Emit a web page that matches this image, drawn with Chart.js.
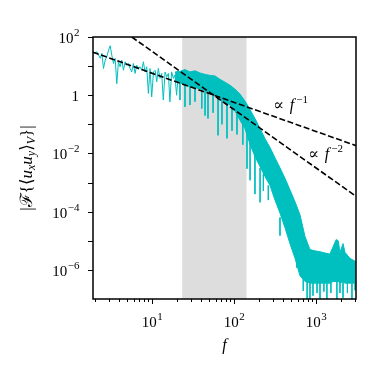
<!DOCTYPE html>
<html>
<head>
<meta charset="utf-8">
<script src="https://cdn.jsdelivr.net/npm/chart.js@4/dist/chart.umd.min.js"></script>
<style>
  html, body { margin: 0; padding: 0; background: #fff; }
</style>
</head>
<body>
<canvas id="myChart" width="374" height="374"></canvas>
<script>
// low-frequency part of the spectrum (thin noisy line)
const lowF = [1.93, 2.12, 2.22, 2.33, 2.44, 2.55, 2.68, 2.80, 2.94, 3.08, 3.22, 3.38, 3.54, 3.71, 3.88, 4.07, 4.26, 4.47,
  4.68, 4.91, 5.14, 5.39, 5.64, 5.91, 6.20, 6.49, 6.80, 7.13, 7.47, 7.83, 8.20, 8.60, 9.01, 9.44, 9.89, 10.4, 10.9,
  11.4, 11.9, 12.5, 13.1, 13.7, 14.4, 15.1, 15.8, 16.5, 17.3, 18.2, 19.0, 19.9, 20.9, 21.9, 22.9];
const lowV = [27.5, 30.9, 24, 18.6, 27.5, 8.3, 16.2, 20.9, 35.5, 50, 24, 12.3, 18.6, 2.5, 14.1, 9.5, 16.2, 7.2,
  14.1, 10.7, 12.3, 8.3, 6.3, 12.3, 5.6, 10.7, 8.3, 9.5, 7.2, 14.1, 6.3, 9.5, 1.15, 8.3, 0.87, 6.3, 7.2,
  2.9, 8.3, 3.8, 5.6, 0.68, 6.3, 4.3, 5.6, 0.59, 6.3, 3.8, 4.9, 1.0, 5.6, 2.9, 4.9];

// dense band at higher frequencies: upper and lower edge
const bandF = [19.1, 21.9, 25.2, 29.0, 33.4, 38.5, 44.3, 50.9, 58.6, 67.5, 77.6, 89.3, 103, 118, 136, 157, 180, 208,
  239, 275, 316, 364, 419, 482, 555, 638, 735, 845, 973, 1120, 1288, 1483, 1620, 1765, 1870, 1963, 2140, 2259, 2600, 3076];
const bandHi = [6.3, 6.6, 7.6, 6.3, 6.9, 5.8, 5.2, 4.8, 4.6, 3.5, 2.8, 2.2, 1.6, 1.1, 0.63, 0.32, 0.16, 0.071,
  0.032, 0.016, 0.0071, 0.0032, 0.0014, 5.6e-4, 2.2e-4, 7.9e-5, 1.4e-5, 5e-6, 4.5e-6, 4.2e-6, 3.8e-6, 3.5e-6, 6.3e-6, 1.1e-5,
  1e-5, 4e-6, 8e-6, 4e-6, 2.5e-6, 1.9e-6];
const bandLo = [3.5, 2.6, 2.3, 1.9, 1.8, 1.66, 1.45, 1.2, 1.0, 0.79, 0.6, 0.46, 0.28, 0.14, 0.071, 0.02, 0.0079, 0.0035,
  0.0016, 7.9e-4, 2.5e-4, 8.9e-5, 2.8e-5, 7.9e-6, 2.5e-6, 6.3e-7, 4e-7, 3.5e-7, 3.5e-7, 3.5e-7, 3.5e-7, 3.5e-7, 4e-7, 4e-7,
  4e-7, 3.5e-7, 4e-7, 3.5e-7, 3.5e-7, 3.5e-7];

// downward spikes out of the band
const spikeF = [21.9, 25.2, 29.0, 33.4, 40.4, 44.3, 48.1, 55.5, 63.8, 71.2, 82.0, 94.4, 108.6, 128, 144, 157, 180, 208,
  228, 262, 364, 583, 700, 780, 845, 920, 1030, 1120, 1250, 1360, 1520, 1800, 1963, 2140, 2420, 2750, 3000];
const spikeTop = [2.8, 2.5, 2.2, 2.2, 1.8, 1.7, 1.6, 1.3, 1.1, 0.9, 0.6, 0.45, 0.3, 0.1, 0.05, 0.03, 0.01, 3.2e-3,
  2e-3, 8e-4, 6.3e-5, 1.6e-6, 5e-7, 4e-7, 4e-7, 4e-7, 4e-7, 4e-7, 4e-7, 4e-7, 4e-7, 4e-7, 4e-7, 4e-7, 4e-7, 4e-7, 4e-7];
const spikeLo = [0.68, 0.4, 0.46, 0.6, 0.35, 0.2, 0.16, 0.25, 0.042, 0.1, 0.033, 0.06, 0.045, 0.02, 0.003, 0.0012, 4e-4, 2.1e-4,
  5.2e-4, 2.5e-4, 1.5e-5, 1.2e-6, 1.9e-7, 9e-8, 9e-8, 1.3e-7, 1.6e-7, 9e-8, 1.8e-7, 9e-8, 1.6e-7, 9e-8, 1.6e-7, 1.1e-7, 1.6e-7, 9e-8, 2e-7];

// power-law guide lines (end points)
const slope1F = [1.9, 3080];
const slope1V = [30, 0.0185];
const slope2F = [5.65, 3080];
const slope2V = [100, 3.36e-4];

// shaded frequency window
const shadeF = [23.3, 142];

// axis ticks
const xMajor = [10, 100, 1000];
const xMinor = [2, 3, 4, 5, 6, 7, 8, 9, 20, 30, 40, 50, 60, 70, 80, 90, 200, 300, 400, 500, 600, 700, 800, 900, 2000, 3000];
const xLabelExp = ['1', '2', '3'];
const yMajor = [1e-6, 1e-5, 1e-4, 1e-3, 1e-2, 1e-1, 1, 10, 100];
const yLabelVals = [1e-6, 1e-4, 1e-2, 1, 100];
const yLabelExp = ['\u22126', '\u22124', '\u22122', '', '2'];

const cyan = '#00bfbf';
const serif = '"Liberation Serif", "DejaVu Serif", serif';

const pts = (fs, vs) => fs.map((f, i) => ({ x: f, y: vs[i] }));

let spikePts = [];
spikeF.forEach((f, i) => {
   spikePts.push({ x: f, y: spikeTop[i] }, { x: f, y: spikeLo[i] }, { x: f, y: null });
});

function powLabel(ctx, x, y, base, exp, align) {
   ctx.font = '15px ' + serif;
   const wb = ctx.measureText(base).width;
   ctx.font = '11px ' + serif;
   const we = exp ? ctx.measureText(exp).width : 0;
   const x0 = align === 'right' ? x - wb - we : x - (wb + we) / 2;
   ctx.font = '15px ' + serif;
   ctx.fillText(base, x0, y);
   if (exp) {
      ctx.font = '11px ' + serif;
      ctx.fillText(exp, x0 + wb + 0.5, y - 7);
   }
}

function richText(ctx, x, y, parts) {
   // parts: [text, size, dy, italic]
   let w = 0;
   parts.forEach(p => {
      ctx.font = (p[3] ? 'italic ' : '') + p[1] + 'px ' + serif;
      w += ctx.measureText(p[0]).width;
   });
   let cx = x - w / 2;
   parts.forEach(p => {
      ctx.font = (p[3] ? 'italic ' : '') + p[1] + 'px ' + serif;
      ctx.fillText(p[0], cx, y + p[2]);
      cx += ctx.measureText(p[0]).width;
   });
}

const decor = {
   id: 'decor',
   beforeDatasetsDraw(chart) {
      const { ctx, chartArea: a, scales: { x } } = chart;
      const x0 = x.getPixelForValue(shadeF[0]);
      const x1 = x.getPixelForValue(shadeF[1]);
      ctx.save();
      ctx.fillStyle = '#dddddd';
      ctx.fillRect(x0, a.top, x1 - x0, a.bottom - a.top);
      ctx.restore();
   },
   afterDraw(chart) {
      const { ctx, chartArea: a, scales: { x, y } } = chart;
      ctx.save();
      ctx.strokeStyle = '#000';
      ctx.fillStyle = '#000';

      // ticks
      ctx.lineWidth = 1;
      ctx.beginPath();
      yMajor.forEach(v => {
         const py = Math.round(y.getPixelForValue(v)) + 0.5;
         ctx.moveTo(a.left - 5, py); ctx.lineTo(a.left, py);
      });
      xMajor.forEach(v => {
         const px = Math.round(x.getPixelForValue(v)) + 0.5;
         ctx.moveTo(px, a.bottom); ctx.lineTo(px, a.bottom + 5);
      });
      xMinor.forEach(v => {
         const px = Math.round(x.getPixelForValue(v)) + 0.5;
         ctx.moveTo(px, a.bottom); ctx.lineTo(px, a.bottom + 3);
      });
      ctx.stroke();

      // frame
      ctx.lineWidth = 1.5;
      ctx.strokeRect(a.left, a.top, a.right - a.left, a.bottom - a.top);

      // tick labels
      ctx.textBaseline = 'alphabetic';
      ctx.textAlign = 'left';
      yLabelVals.forEach((v, i) => {
         const py = y.getPixelForValue(v);
         powLabel(ctx, a.left - 14, py + 6, yLabelExp[i] === '' ? '1' : '10', yLabelExp[i], 'right');
      });
      xMajor.forEach((v, i) => {
         const px = x.getPixelForValue(v);
         powLabel(ctx, px, a.bottom + 28, '10', xLabelExp[i], 'center');
      });

      // axis titles
      richText(ctx, (a.left + a.right) / 2, 350, [['f', 16, 0, true]]);
      ctx.translate(32, (a.top + a.bottom) / 2);
      ctx.rotate(-Math.PI / 2);
      richText(ctx, 0, 0, [
         ['|\u2131{\u27e8', 17, 0, false],
         ['u', 17, 0, true], ['x', 12, 3, true],
         ['u', 17, 0, true], ['y', 12, 3, true],
         ['\u27e9', 17, 0, false], ['V', 12, 3, true],
         ['}|', 17, 0, false]
      ]);
      ctx.restore();

      // slope annotations
      ctx.save();
      ctx.fillStyle = '#000';
      const ann = [[299, 0.30, '\u22121'], [798, 0.0062, '\u22122']];
      ann.forEach(an => {
         const px = x.getPixelForValue(an[0]);
         const py = y.getPixelForValue(an[1]);
         ctx.font = '16px ' + serif;
         ctx.fillText('\u221d', px, py);
         const w1 = ctx.measureText('\u221d ').width;
         ctx.font = 'italic 16px ' + serif;
         ctx.fillText('f', px + w1 + 2, py);
         const w2 = ctx.measureText('f').width;
         ctx.font = '11px ' + serif;
         ctx.fillText(an[2], px + w1 + w2 + 4, py - 7);
      });
      ctx.restore();
   }
};

const ctx = document.getElementById('myChart').getContext('2d');

const data = {
   datasets: [
      {
         data: pts(slope1F, slope1V),
         borderColor: '#000', borderWidth: 1.6, borderDash: [6, 2.6],
         pointRadius: 0, fill: false, clip: 0
      },
      {
         data: pts(slope2F, slope2V),
         borderColor: '#000', borderWidth: 1.6, borderDash: [6, 2.6],
         pointRadius: 0, fill: false, clip: 0
      },
      {
         data: pts(bandF, bandLo),
         borderColor: cyan, borderWidth: 1,
         pointRadius: 0, fill: false, clip: 0
      },
      {
         data: pts(bandF, bandHi),
         borderColor: cyan, borderWidth: 1, backgroundColor: cyan,
         pointRadius: 0, fill: '-1', clip: 0
      },
      {
         data: pts(lowF, lowV),
         borderColor: cyan, borderWidth: 1,
         pointRadius: 0, fill: false, clip: 0
      },
      {
         data: spikePts,
         borderColor: cyan, borderWidth: 1,
         pointRadius: 0, fill: false, spanGaps: false, clip: 0
      }
   ]
};

const config = {
   type: 'line',
   data: data,
   plugins: [decor],
   options: {
      responsive: false,
      animation: false,
      devicePixelRatio: 1,
      layout: { padding: { left: 0, top: 37, right: 18, bottom: 0 } },
      plugins: {
         legend: { display: false },
         tooltip: { enabled: false }
      },
      elements: { line: { tension: 0 } },
      scales: {
         x: {
            type: 'logarithmic',
            min: 1.9, max: 3080,
            ticks: { display: false },
            grid: { display: false },
            border: { display: false },
            afterFit(s) { s.height = 75; }
         },
         y: {
            type: 'logarithmic',
            min: 1e-7, max: 100,
            ticks: { display: false },
            grid: { display: false },
            border: { display: false },
            afterFit(s) { s.width = 93; }
         }
      }
   }
};

const myChart = new Chart(ctx, config);
</script>
</body>
</html>
